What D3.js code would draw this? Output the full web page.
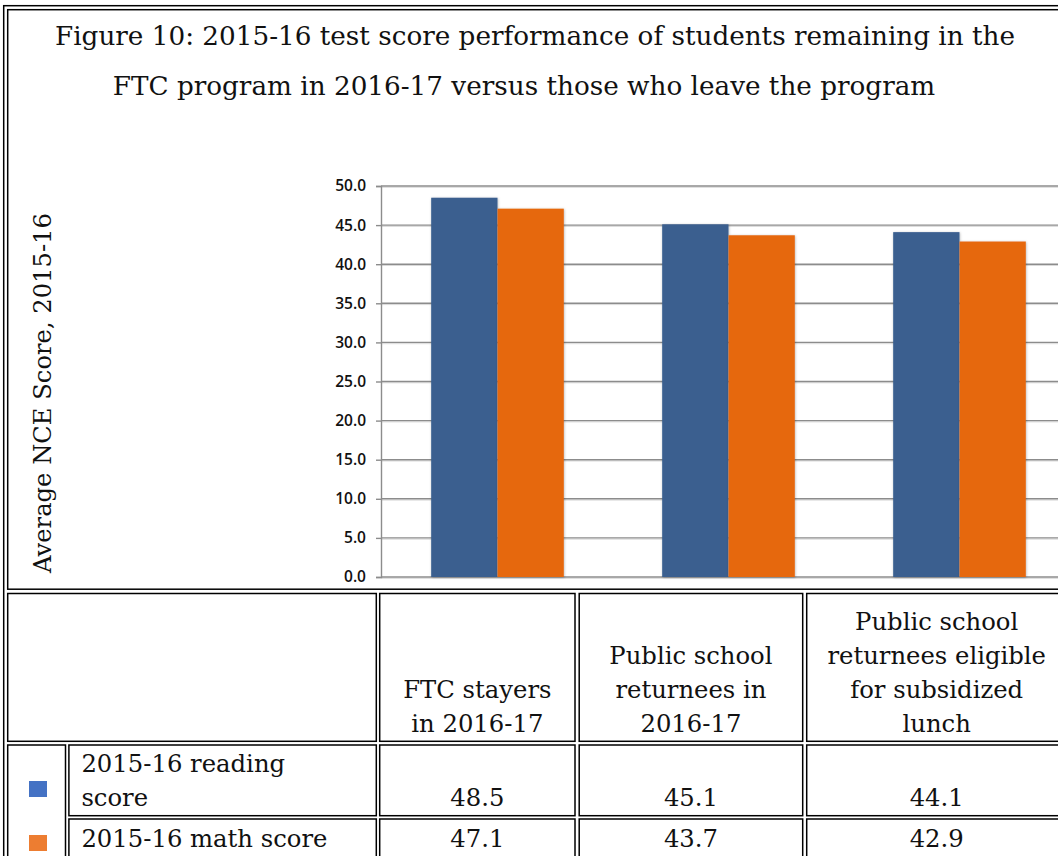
<!DOCTYPE html>
<html>
<head>
<meta charset="utf-8">
<script src="https://cdn.jsdelivr.net/npm/d3@7"></script>
<style>
  html, body { margin: 0; padding: 0; background: #ffffff; }
  svg { display: block; }
</style>
</head>
<body>
<script>
// ---------------- DATA ----------------
const titleLines = [
  "Figure 10: 2015-16 test score performance of students remaining in the",
  "FTC program in 2016-17 versus those who leave the program"
];
const yAxisTitle = "Average NCE Score, 2015-16";
const categories = [
  "FTC stayers in 2016-17",
  "Public school returnees in 2016-17",
  "Public school returnees eligible for subsidized lunch"
];
const categoryLines = [
  ["FTC stayers", "in 2016-17"],
  ["Public school", "returnees in", "2016-17"],
  ["Public school", "returnees eligible", "for subsidized", "lunch"]
];
const seriesNames = ["2015-16 reading score", "2015-16 math score"];
const seriesLabelLines = [["2015-16 reading", "score"], ["2015-16 math score"]];
const readingScores = [48.5, 45.1, 44.1];
const mathScores = [47.1, 43.7, 42.9];
const seriesValues = [readingScores, mathScores];
const yTicks = [0, 5, 10, 15, 20, 25, 30, 35, 40, 45, 50];

// ---------------- STYLE / LAYOUT ----------------
const W = 1058, H = 856;
const barColors = ["#3a5e8f", "#e6670f"];
const swatchColors = ["#4472c4", "#ed7d31"];
const serif = "'DejaVu Serif', 'Liberation Serif', serif";
const sans = "'Open Sans', 'Liberation Sans', sans-serif";

const svg = d3.select("body").append("svg")
  .attr("width", W).attr("height", H)
  .attr("viewBox", `0 0 ${W} ${H}`);

const defs = svg.append("defs");
const f = defs.append("filter").attr("id", "barShadow")
  .attr("x", "-10%").attr("y", "-5%").attr("width", "120%").attr("height", "110%");
f.append("feDropShadow").attr("dx", 0.5).attr("dy", 0.5)
  .attr("stdDeviation", 1.1).attr("flood-color", "#000").attr("flood-opacity", 0.28);

// helper: fit font size so a text reaches a target width
function fitSize(family, weight, str, target) {
  const t = svg.append("text").attr("font-family", family).attr("font-weight", weight)
    .attr("font-size", 100).text(str);
  const len = t.node().getComputedTextLength();
  t.remove();
  return 100 * target / len;
}

// ---------------- FRAME / TABLE BORDERS ----------------
const stroke = 1.5;
const borders = svg.append("g").attr("fill", "none").attr("stroke", "#000").attr("stroke-width", stroke);
const rightEdge = 1066.7;
// outer frame
borders.append("rect").attr("x", 3.7).attr("y", 5.7).attr("width", rightEdge + 4 - 3.7).attr("height", H + 20);
// chart cell
borders.append("rect").attr("x", 7.7).attr("y", 9.7).attr("width", rightEdge - 7.7).attr("height", 589.2 - 9.7);

const colX = [[7.7, 65.5], [68.9, 376.3], [379.7, 575.0], [579.2, 802.7], [806.7, rightEdge]];
const rowY = { head: [593.5, 741.3], r1: [745.0, 815.7], r2: [819.0, 900] };
function cell(x0, x1, y0, y1) {
  borders.append("rect").attr("x", x0).attr("y", y0).attr("width", x1 - x0).attr("height", y1 - y0);
}
// header row
cell(colX[0][0], colX[1][1], rowY.head[0], rowY.head[1]);
for (let c = 2; c < 5; c++) cell(colX[c][0], colX[c][1], rowY.head[0], rowY.head[1]);
// legend swatch cell spanning both rows
cell(colX[0][0], colX[0][1], rowY.r1[0], rowY.r2[1]);
["r1", "r2"].forEach(r => {
  for (let c = 1; c < 5; c++) cell(colX[c][0], colX[c][1], rowY[r][0], rowY[r][1]);
});

// ---------------- TITLE ----------------
const titleSize = fitSize(serif, 400, titleLines[0], 960);
const titleCenters = [535, 524];
const titleBaselines = [45, 95];
svg.append("g").selectAll("text").data(titleLines).join("text")
  .attr("x", (d, i) => titleCenters[i]).attr("y", (d, i) => titleBaselines[i])
  .attr("text-anchor", "middle").attr("font-family", serif).attr("font-size", titleSize)
  .attr("fill", "#111").text(d => d);

// y-axis title
const yTitleSize = fitSize(serif, 400, yAxisTitle, 360);
svg.append("text")
  .attr("transform", "translate(51,393) rotate(-90)")
  .attr("text-anchor", "middle").attr("font-family", serif).attr("font-size", yTitleSize)
  .attr("fill", "#111").text(yAxisTitle);

// ---------------- CHART ----------------
const y = d3.scaleLinear().domain([0, 50]).range([577, 186]);
const x0 = d3.scaleBand().domain(categories).range([382, 1075]).paddingInner(0).paddingOuter(0);
const x1 = d3.scaleBand().domain(seriesNames).range([0, x0.bandwidth()]).paddingInner(0).paddingOuter(0.742);

// gridlines
const grid = svg.append("g");
grid.selectAll("line.glow").data(yTicks).join("line").attr("class", "glow")
  .attr("x1", 381).attr("x2", W).attr("y1", d => y(d) + 1.3).attr("y2", d => y(d) + 1.3)
  .attr("stroke", "#d9d9d9").attr("stroke-width", 1);
grid.selectAll("line.main").data(yTicks).join("line").attr("class", "main")
  .attr("x1", 381).attr("x2", W).attr("y1", d => y(d)).attr("y2", d => y(d))
  .attr("stroke", "#8c8c8c").attr("stroke-width", 1.4);

// bars
const groups = svg.append("g").selectAll("g").data(categories).join("g")
  .attr("transform", d => `translate(${x0(d)},0)`);
groups.selectAll("rect").data((d, ci) => seriesNames.map((s, si) => ({ s, si, v: seriesValues[si][ci] })))
  .join("rect")
  .attr("x", d => x1(d.s)).attr("width", x1.bandwidth())
  .attr("y", d => y(d.v)).attr("height", d => y(0) - y(d.v))
  .attr("fill", d => barColors[d.si])
  .attr("filter", "url(#barShadow)");

// y axis
const yAxis = d3.axisLeft(y).tickValues(yTicks).tickFormat(d3.format(".1f")).tickSize(5).tickPadding(10);
const ya = svg.append("g").attr("transform", "translate(381,0)").call(yAxis);
ya.select(".domain").attr("stroke", "#8c8c8c").attr("stroke-width", 1.4);
ya.selectAll(".tick line").attr("stroke", "#8c8c8c").attr("stroke-width", 1.4);
ya.selectAll(".tick text").attr("font-family", sans).attr("font-weight", 600)
  .attr("font-size", 15.5).attr("fill", "#111");

// ---------------- TABLE TEXT ----------------
const tableSize = fitSize(serif, 400, "returnees eligible", 218.7);
const lineH = 34;
const colCenters = [2, 3, 4].map(c => (colX[c][0] + colX[c][1]) / 2);
const headG = svg.append("g").attr("font-family", serif).attr("font-size", tableSize).attr("fill", "#111");
categoryLines.forEach((lines, ci) => {
  headG.append("g").selectAll("text").data(lines).join("text")
    .attr("x", colCenters[ci])
    .attr("y", (d, i) => 732 - (lines.length - 1 - i) * lineH)
    .attr("text-anchor", "middle").text(d => d);
});

const rowBaselines = [806, 846.7];
seriesLabelLines.forEach((lines, si) => {
  headG.append("g").selectAll("text").data(lines).join("text")
    .attr("x", 81.4)
    .attr("y", (d, i) => rowBaselines[si] - (lines.length - 1 - i) * lineH)
    .text(d => d);
  headG.append("g").selectAll("text").data(seriesValues[si]).join("text")
    .attr("x", (d, i) => colCenters[i]).attr("y", rowBaselines[si])
    .attr("text-anchor", "middle").text(d => d.toFixed(1));
});

// legend swatches
const swatchY = [781, 835];
svg.append("g").selectAll("rect").data(seriesNames).join("rect")
  .attr("x", 29).attr("y", (d, i) => swatchY[i]).attr("width", 18).attr("height", 16)
  .attr("fill", (d, i) => swatchColors[i]);
</script>
</body>
</html>
